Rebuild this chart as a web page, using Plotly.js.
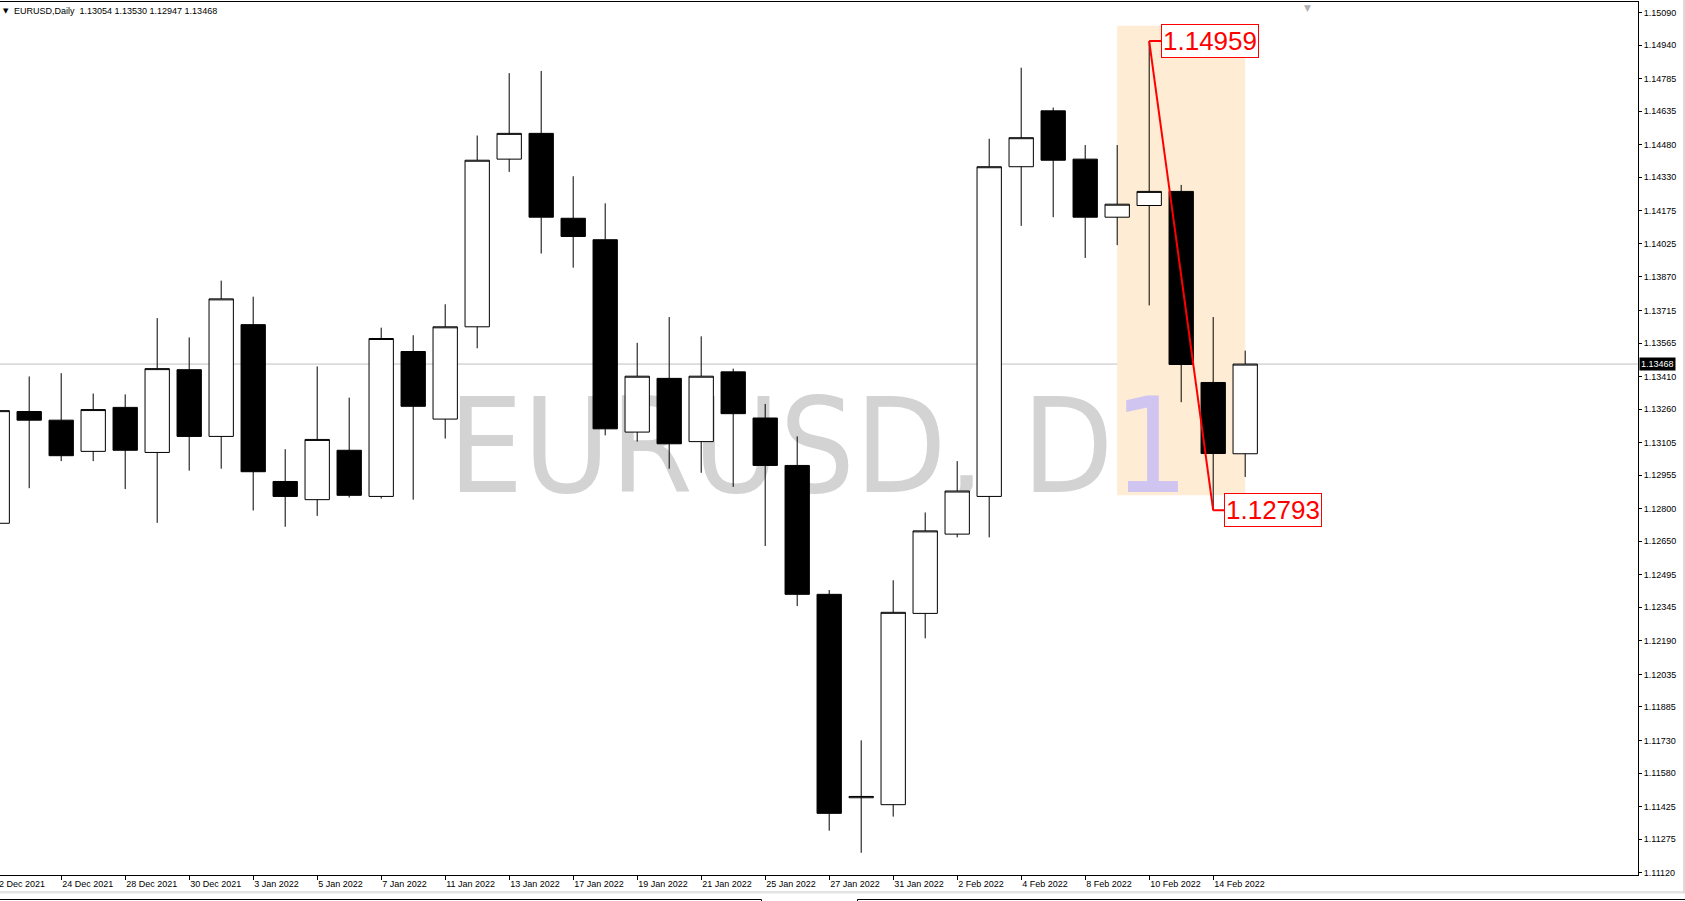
<!DOCTYPE html>
<html>
<head>
<meta charset="utf-8">
<script src="https://cdn.plot.ly/plotly-3.0.1.min.js"></script>
<style>
html,body{margin:0;padding:0;background:#fff;overflow:hidden;}
#chart{width:1685px;height:901px;}
</style>
</head>
<body>
<div id="chart"></div>
<script>
// ---- data ----
const symbol = 'EURUSD';
const period = 'Daily';
const watermarkMain = 'EURUSD, D';
const watermarkTail = '1';

const dates = ['22 Dec 2021','23 Dec 2021','24 Dec 2021','27 Dec 2021','28 Dec 2021','29 Dec 2021','30 Dec 2021','31 Dec 2021',
  '3 Jan 2022','4 Jan 2022','5 Jan 2022','6 Jan 2022','7 Jan 2022','10 Jan 2022','11 Jan 2022','12 Jan 2022','13 Jan 2022','14 Jan 2022',
  '17 Jan 2022','18 Jan 2022','19 Jan 2022','20 Jan 2022','21 Jan 2022','24 Jan 2022','25 Jan 2022','26 Jan 2022','27 Jan 2022','28 Jan 2022',
  '31 Jan 2022','1 Feb 2022','2 Feb 2022','3 Feb 2022','4 Feb 2022','7 Feb 2022','8 Feb 2022','9 Feb 2022','10 Feb 2022','11 Feb 2022',
  '14 Feb 2022','15 Feb 2022'];

const open  = [1.12733,1.13249,1.13209,1.13065,1.13268,1.13060,1.13442,1.13134,
  1.13650,1.12926,1.12842,1.13070,1.12857,1.13526,1.13214,1.13640,1.14414,1.14533,
  1.14141,1.14042,1.13154,1.13402,1.13110,1.13432,1.13219,1.13000,1.12405,1.11466,
  1.11434,1.12317,1.12683,1.12857,1.14379,1.14637,1.14414,1.14146,1.14200,1.14265,
  1.13383,1.13054];
const high  = [1.13340,1.13411,1.13426,1.13332,1.13328,1.13680,1.13591,1.13853,
  1.13779,1.13075,1.13457,1.13313,1.13636,1.13601,1.13744,1.14523,1.14811,1.14821,
  1.14335,1.14210,1.13566,1.13685,1.13596,1.13447,1.13284,1.13134,1.12425,1.11731,
  1.12470,1.12783,1.13020,1.14508,1.14836,1.14652,1.14479,1.14479,1.14959,1.14295,
  1.13685,1.13530];
const low   = [1.12700,1.12895,1.13020,1.13020,1.12891,1.12735,1.12976,1.12985,
  1.12792,1.12717,1.12767,1.12852,1.12847,1.12842,1.13124,1.13541,1.14355,1.13978,
  1.13913,1.13139,1.13110,1.12985,1.12966,1.12901,1.12628,1.12351,1.11314,1.11212,
  1.11379,1.12202,1.12668,1.12668,1.14106,1.14146,1.13958,1.14017,1.13739,1.13292,
  1.12793,1.12947];
const close = [1.13253,1.13209,1.13045,1.13258,1.13070,1.13447,1.13134,1.13769,
  1.12971,1.12857,1.13120,1.12862,1.13586,1.13273,1.13640,1.14409,1.14533,1.14146,
  1.14057,1.13169,1.13412,1.13100,1.13412,1.13239,1.13000,1.12405,1.11394,1.11472,
  1.12322,1.12698,1.12882,1.14379,1.14513,1.14409,1.14146,1.14206,1.14265,1.13466,
  1.13055,1.13468];

const priceLabels = ['1.15090','1.14940','1.14785','1.14635','1.14480','1.14330','1.14175','1.14025','1.13870',
  '1.13715','1.13565','1.13410','1.13260','1.13105','1.12955','1.12800','1.12650','1.12495','1.12345',
  '1.12190','1.12035','1.11885','1.11730','1.11580','1.11425','1.11275','1.11120'];

// zigzag pivots: bar index and price
const zigBars = [36, 38];
const zigPrices = [1.14959, 1.12793];

// highlighted zone: bar index span and price span
const zoneBars = [35, 39];
const zonePrices = [1.12863, 1.15030];

// ---- chart ----
const idx = dates.map((d, i) => i);
const xr = [0.0875, 51.275];
const yr = [1.111094, 1.151394];
const FONT = 'Liberation Sans, Arial, sans-serif';
const WMFONT = 'DejaVu Sans Condensed, DejaVu Sans, sans-serif';
const last = close.length - 1;
const f5 = v => v.toFixed(5);

const tickIdx = idx.filter(i => i % 2 === 0);

const candles = {
  type: 'candlestick', x: idx, open: open, high: high, low: low, close: close,
  increasing: {line: {color: '#000000', width: 1}, fillcolor: '#ffffff'},
  decreasing: {line: {color: '#000000', width: 1}, fillcolor: '#000000'},
  whiskerwidth: 0, hoverinfo: 'skip', showlegend: false
};
const zig = {
  type: 'scatter', mode: 'lines', x: zigBars, y: zigPrices,
  line: {color: '#ff0000', width: 2}, hoverinfo: 'skip', showlegend: false
};

const annotations = [
  {xref: 'paper', yref: 'paper', x: 0, y: 1, xanchor: 'left', yanchor: 'middle', xshift: 1, yshift: -9,
   text: '▼', showarrow: false, font: {family: 'DejaVu Sans', size: 7, color: '#000'}},
  {xref: 'paper', yref: 'paper', x: 0, y: 1, xanchor: 'left', yanchor: 'middle', xshift: 12, yshift: -9,
   text: symbol + ',' + period + '\u00a0\u00a0' + [open[last], high[last], low[last], close[last]].map(f5).join(' '),
   showarrow: false, font: {family: FONT, size: 9, color: '#000'}},
  {xref: 'x', yref: 'y', x: zigBars[0], y: zigPrices[0], text: f5(zigPrices[0]), showarrow: true,
   arrowhead: 0, arrowwidth: 2, arrowcolor: '#ff0000', ax: 61, ay: 0, standoff: 0,
   font: {family: FONT, size: 26, color: '#ff0000'}, bgcolor: '#ffffff', bordercolor: '#ff0000', borderwidth: 1, borderpad: 1},
  {xref: 'x', yref: 'y', x: zigBars[1], y: zigPrices[1], text: f5(zigPrices[1]), showarrow: true,
   arrowhead: 0, arrowwidth: 2, arrowcolor: '#ff0000', ax: 60, ay: 0, standoff: 0,
   font: {family: FONT, size: 26, color: '#ff0000'}, bgcolor: '#ffffff', bordercolor: '#ff0000', borderwidth: 1, borderpad: 1},
  {xref: 'paper', yref: 'y', x: 1, y: close[last], xanchor: 'left', xshift: 1, text: f5(close[last]), showarrow: false,
   font: {family: FONT, size: 9, color: '#ffffff'}, bgcolor: '#000000', borderpad: 1},
  {xref: 'paper', yref: 'paper', x: (0 - xr[0]) / (xr[1] - xr[0]), y: 0, xanchor: 'left', yanchor: 'top', yshift: -2, xshift: -5,
   text: dates[0], showarrow: false, font: {family: FONT, size: 9, color: '#000'}},
  {xref: 'paper', yref: 'paper', x: 0.7985, y: 1, xanchor: 'center', yanchor: 'top', yshift: 1,
   text: '▼', showarrow: false, font: {family: 'DejaVu Sans', size: 9, color: '#b0b0b0'}}
];

// window frame helpers (pixel -> paper), plot area spans x 0..1638, y 2..875
const px = x => x / 1638;
const py = y => 1 - (y - 2) / 873;

const shapes = [
  {type: 'rect', xref: 'x', yref: 'y', x0: zoneBars[0], x1: zoneBars[1], y0: zonePrices[0], y1: zonePrices[1],
   fillcolor: '#FEECD5', line: {width: 0}, layer: 'below'},
  {type: 'rect', xref: 'x', yref: 'y', x0: 14.0, x1: 50, y0: 1.127759, y1: 1.1420,
   fillcolor: 'rgba(0,0,0,0)', line: {width: 0}, layer: 'below',
   label: {text: watermarkMain + "<span style='color:#D0C4F0'>" + watermarkTail + "</span>",
     textposition: 'bottom left', padding: 0,
     font: {family: WMFONT, size: 132, color: '#D3D3D3'}}},
  {type: 'line', xref: 'paper', yref: 'y', x0: 0, x1: 1, y0: close[last], y1: close[last],
   line: {color: '#C0C0C0', width: 1}, layer: 'below'},
  // window frame below / right of the chart
  {type: 'rect', xref: 'paper', yref: 'paper', x0: px(0), x1: px(1685), y0: py(893.5), y1: py(891),
   fillcolor: '#E4E4E4', line: {width: 0}, layer: 'above'},
  {type: 'rect', xref: 'paper', yref: 'paper', x0: px(1683), x1: px(1685), y0: py(893.5), y1: py(0),
   fillcolor: '#DCDCDC', line: {width: 0}, layer: 'above'},
  {type: 'path', xref: 'paper', yref: 'paper',
   path: 'M0,' + py(899.5) + ' L' + px(761.5) + ',' + py(899.5) + ' L' + px(761.5) + ',' + py(902),
   line: {color: '#000', width: 1}, layer: 'above'},
  {type: 'path', xref: 'paper', yref: 'paper',
   path: 'M' + px(1685) + ',' + py(899.5) + ' L' + px(857.5) + ',' + py(899.5) + ' L' + px(857.5) + ',' + py(902),
   line: {color: '#000', width: 1}, layer: 'above'}
];

const layout = {
  width: 1685, height: 901,
  margin: {l: 0, r: 47, t: 2, b: 26, pad: 0, autoexpand: false},
  paper_bgcolor: '#ffffff', plot_bgcolor: '#ffffff',
  showlegend: false, dragmode: false,
  boxgap: 0.24, boxgroupgap: 0,
  xaxis: {
    type: 'linear', range: xr, showgrid: false, zeroline: false,
    showline: true, linecolor: '#000', linewidth: 1, mirror: true,
    tickmode: 'array', tickvals: tickIdx, ticktext: tickIdx.map(i => dates[i]),
    ticks: 'outside', ticklen: 4, tickcolor: '#000', tickwidth: 1,
    ticklabelposition: 'outside right',
    tickfont: {family: FONT, size: 9, color: '#000'},
    rangeslider: {visible: false}, fixedrange: true
  },
  yaxis: {
    type: 'linear', range: yr, side: 'right', showgrid: false, zeroline: false,
    showline: true, linecolor: '#000', linewidth: 1,
    tickmode: 'array', tickvals: priceLabels.map(Number), ticktext: priceLabels,
    ticks: 'outside', ticklen: 3, tickcolor: '#000', tickwidth: 1,
    tickfont: {family: FONT, size: 9, color: '#000'}, fixedrange: true
  },
  shapes: shapes,
  annotations: annotations
};

Plotly.newPlot('chart', [candles, zig], layout, {displayModeBar: false, staticPlot: true});
</script>
</body>
</html>
